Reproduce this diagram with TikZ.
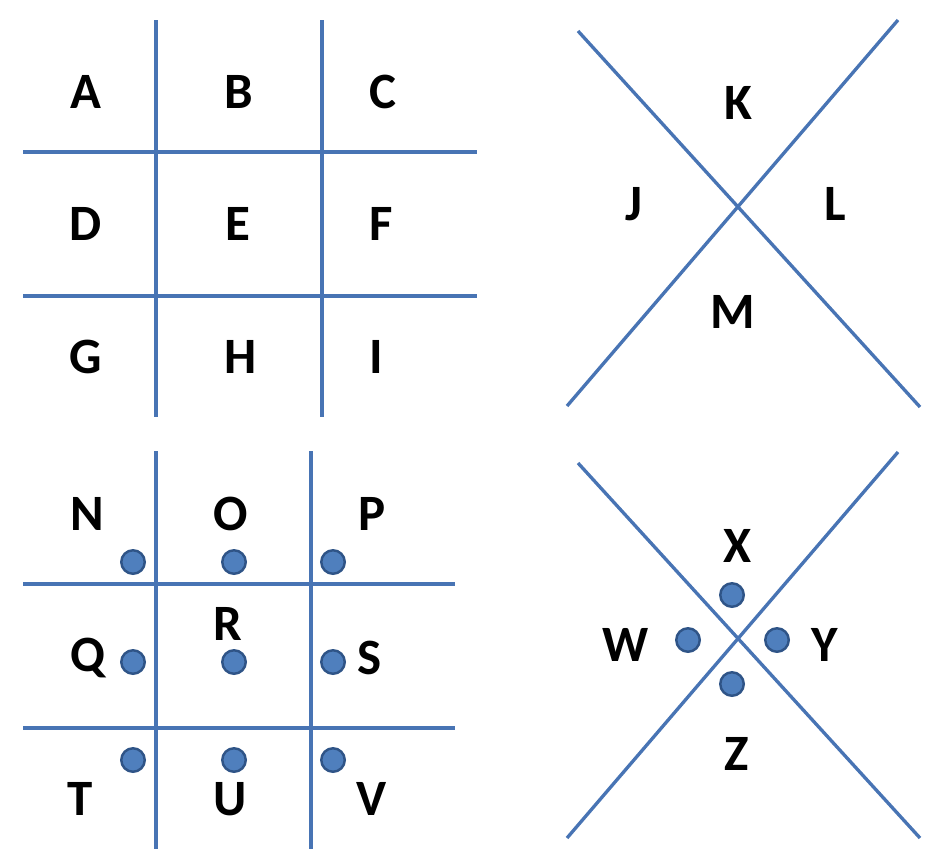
\documentclass[tikz,border=0pt]{standalone}
\usepackage{fontspec}
\setmainfont{Carlito}
\usetikzlibrary{calc}
\definecolor{pigline}{HTML}{4874B4}
\definecolor{pigdot}{HTML}{4F7FBD}
\definecolor{pigrim}{HTML}{2F5487}

\begin{document}
\begin{tikzpicture}[x=0.02cm,y=-0.02cm,
        bar/.style={pigline,line width=1.9pt},
        letter/.style={inner sep=0pt,font=\fontsize{29}{29}\selectfont\bfseries},
        pip/.style={circle,fill=pigdot,draw=pigrim,line width=1.4pt,inner sep=0pt,minimum size=0.47cm}]
                \useasboundingbox (0,0) rectangle (952,866);
                % top left grid
                \foreach \x in {156,322}
                    \draw[bar] (\x,20) -- (\x,417);
                \foreach \y in {152,296}
                    \draw[bar] (23,\y) -- (477,\y);
                \foreach \l/\x/\y in {A/86/92,B/239/92,C/383/92,D/86/224,E/238/224,F/381/224,G/86/357,H/241/357,I/376/357}
                    \node[letter] (\l) at (\x,\y) {\l};
                % top right cross
                \draw[bar] (578,31) -- (920,407);
                \draw[bar] (898,20) -- (567,406);
                \foreach \l/\x/\y in {K/738/103,J/634/204,L/835/204,M/733/312}
                    \node[letter] (\l) at (\x,\y) {\l};
                % bottom left grid with dots
                \foreach \x in {156,311}
                    \draw[bar] (\x,451) -- (\x,849);
                \foreach \y in {584,728}
                    \draw[bar] (23,\y) -- (455,\y);
                \foreach \l/\x/\y in {N/87/514,O/231/514,P/372/514,Q/88/658,R/228/624,S/370/658,T/80/799,U/230/799,V/372/799}
                    \node[letter] (\l) at (\x,\y) {\l};
                \foreach \l/\y in {N/562,Q/662,T/760}
                    \node[pip] (dot\l) at (133,\y) {};
                \foreach \l/\y in {O/562,R/662,U/760}
                    \node[pip] (dot\l) at (234,\y) {};
                \foreach \l/\y in {P/562,S/662,V/760}
                    \node[pip] (dot\l) at (333,\y) {};
                % bottom right cross with dots
                \draw[bar] (578,463) -- (920,838);
                \draw[bar] (898,452) -- (567,838);
                \foreach \l/\x/\y in {X/738/546,W/626/645,Y/825/645,Z/737/754}
                    \node[letter] (\l) at (\x,\y) {\l};
                \foreach \l/\x/\y in {X/732/595,W/688/640,Y/777/640,Z/732/684}
                    \node[pip] (dot\l) at (\x,\y) {};
\end{tikzpicture}
\end{document}
